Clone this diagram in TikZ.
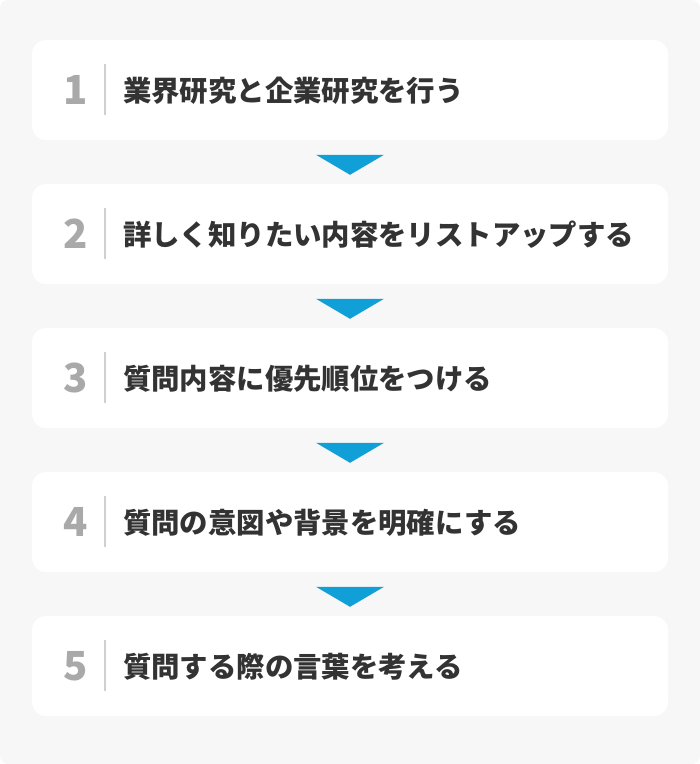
\documentclass[tikz,border=0pt]{standalone}
\usepackage{fontspec}
\setmainfont{Noto Sans CJK JP}
\usetikzlibrary{positioning,calc}
\definecolor{bggray}{HTML}{F7F7F7}
\definecolor{numgray}{HTML}{A9A9A9}
\definecolor{linegray}{HTML}{D0D0D0}
\definecolor{txtgray}{HTML}{333333}
\definecolor{arrowblue}{HTML}{109FD6}
\begin{document}
\begin{tikzpicture}[x=1pt,y=-1pt,
	stepbox/.style={fill=white,rounded corners=14pt,minimum width=636pt,minimum height=100pt,inner sep=0pt},
	stepnum/.style={inner sep=0pt,text=numgray,font=\fontsize{40}{40}\selectfont\bfseries},
	steptext/.style={inner sep=0pt,anchor=west,text=txtgray,font=\fontsize{28.4}{28.4}\selectfont\bfseries}]
	\fill[bggray,rounded corners=8pt] (0,0) rectangle (700,764);
	\useasboundingbox (0,0) rectangle (700,764);
	\foreach \i/\t in {1/業界研究と企業研究を行う,2/詳しく知りたい内容をリストアップする,3/質問内容に優先順位をつける,4/質問の意図や背景を明確にする,5/質問する際の言葉を考える} {
		\node [stepbox] (box\i) at (350,{90+144*(\i-1)}) {};
		\node [stepnum] (num\i) at ($(box\i.west)+(43.5,0)$) {\i};
		\draw [linegray,line width=1.8pt] ($(box\i.west)+(73,-26)$) -- ($(box\i.west)+(73,25)$);
		\node [steptext] (text\i) at ($(box\i.west)+(91,1)$) {\t};
	}
	% triangles between the steps
	\foreach \i in {2,...,5}
		\fill [arrowblue] ($(box\i.north)+(-34,-29)$) -- ($(box\i.north)+(34,-29)$) -- ($(box\i.north)+(0,-9)$) -- cycle;
\end{tikzpicture}
\end{document}
